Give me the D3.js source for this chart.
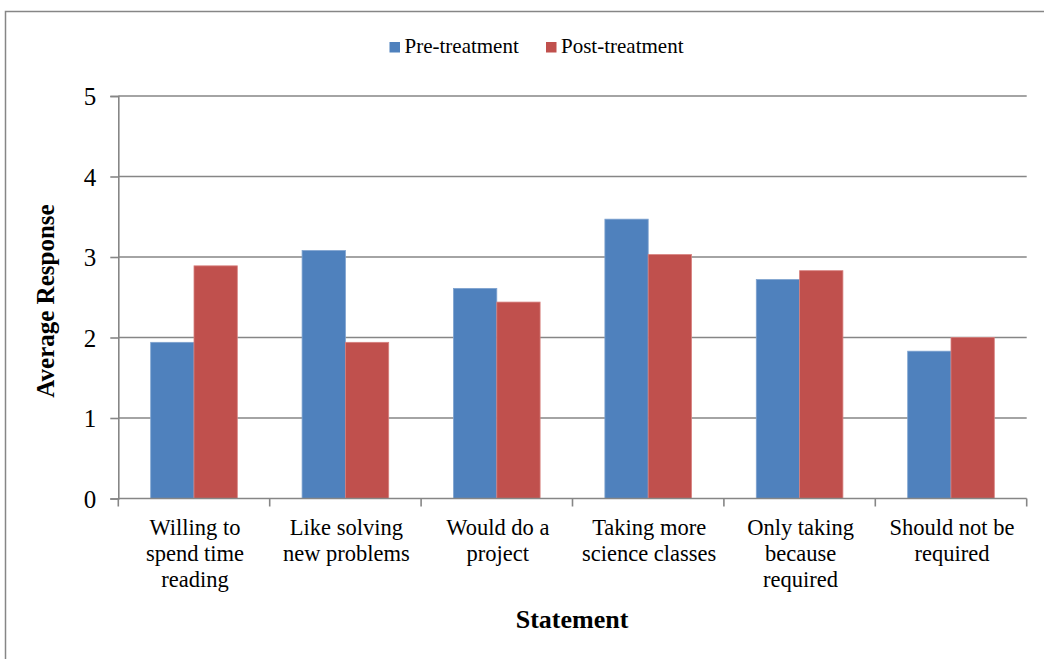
<!DOCTYPE html>
<html>
<head>
<meta charset="utf-8">
<script src="https://cdn.jsdelivr.net/npm/d3@7/dist/d3.min.js"></script>
<style>
  html, body { margin: 0; padding: 0; background: #fff; }
  svg { display: block; }
  svg text { font-family: "Liberation Serif", "Times New Roman", serif; }
</style>
</head>
<body>
<svg id="chart" width="1044" height="659"></svg>
<script>
// Survey statements (each split into display lines)
const categories = [
  ["Willing to", "spend time", "reading"],
  ["Like solving", "new problems"],
  ["Would do a", "project"],
  ["Taking more", "science classes"],
  ["Only taking", "because", "required"],
  ["Should not be", "required"]
];
const seriesNames = ["Pre-treatment", "Post-treatment"];
const preValues  = [1.94, 3.08, 2.61, 3.47, 2.72, 1.83];
const postValues = [2.89, 1.94, 2.44, 3.03, 2.83, 2.00];
const yTicks = [0, 1, 2, 3, 4, 5];

const colors = { "Pre-treatment": "#4F81BD", "Post-treatment": "#C0504D" };
const strokes = { "Pre-treatment": "#7EA2CF", "Post-treatment": "#D7807E" };
const gridColor = "#868686";
const serif = "Liberation Serif, Times New Roman, serif";

const svg = d3.select("#chart");

// outer chart frame (runs off the right and bottom edges)
svg.append("rect")
  .attr("x", 5.5).attr("y", 11.5)
  .attr("width", 1100).attr("height", 700)
  .attr("fill", "none").attr("stroke", gridColor).attr("stroke-width", 1.5);

const plot = { left: 118.3, right: 1026.7, top: 96, bottom: 498.5 };

const ids = d3.range(categories.length);
const x = d3.scaleBand().domain(ids).range([plot.left, plot.right]).padding(0);
const x1 = d3.scaleBand().domain(seriesNames).range([0, x.bandwidth()])
  .paddingInner(0).paddingOuter(0.748);
const y = d3.scaleLinear().domain([0, 5]).range([plot.bottom, plot.top]);

// horizontal gridlines
svg.append("g")
  .selectAll("line").data(yTicks.filter(d => d > 0)).join("line")
  .attr("x1", plot.left).attr("x2", plot.right)
  .attr("y1", d => y(d)).attr("y2", d => y(d))
  .attr("stroke", gridColor).attr("stroke-width", 1.6);

// bars
const rows = ids.map(i => ({ i, vals: [
  { key: "Pre-treatment", v: preValues[i] },
  { key: "Post-treatment", v: postValues[i] }
]}));
svg.append("g")
  .selectAll("g").data(rows).join("g")
  .attr("transform", d => `translate(${x(d.i)},0)`)
  .selectAll("rect").data(d => d.vals).join("rect")
  .attr("x", d => x1(d.key))
  .attr("width", x1.bandwidth())
  .attr("y", d => y(d.v))
  .attr("height", d => y(0) - y(d.v))
  .attr("fill", d => colors[d.key])
  .attr("stroke", d => strokes[d.key]).attr("stroke-width", 0.8);

// y axis
const yAxis = d3.axisLeft(y).tickValues(yTicks).tickSize(8).tickPadding(14)
  .tickFormat(d3.format("d"));
const gy = svg.append("g").attr("transform", `translate(${plot.left},0)`).call(yAxis);
gy.attr("font-family", serif);
gy.select(".domain").attr("stroke", gridColor).attr("stroke-width", 1.6);
gy.selectAll(".tick line").attr("stroke", gridColor).attr("stroke-width", 1.6);
gy.selectAll(".tick text")
  .attr("font-family", serif)
  .attr("font-size", 25).attr("fill", "#000").attr("dy", "0.34em");

// x axis: baseline with tick marks on category boundaries
svg.append("line")
  .attr("x1", plot.left).attr("x2", plot.right)
  .attr("y1", y(0)).attr("y2", y(0))
  .attr("stroke", gridColor).attr("stroke-width", 1.6);
const bounds = ids.map(i => x(i)).concat([plot.right]);
svg.append("g").selectAll("line").data(bounds).join("line")
  .attr("x1", d => d).attr("x2", d => d)
  .attr("y1", y(0)).attr("y2", y(0) + 8)
  .attr("stroke", gridColor).attr("stroke-width", 1.6);

// category labels
const catG = svg.append("g").attr("font-family", serif).attr("font-size", 22.5)
  .attr("fill", "#000").attr("text-anchor", "middle");
catG.selectAll("text").data(ids).join("text")
  .attr("x", i => x(i) + x.bandwidth() / 2 + 1)
  .attr("y", 535)
  .each(function(i) {
    d3.select(this).selectAll("tspan").data(categories[i]).join("tspan")
      .attr("x", x(i) + x.bandwidth() / 2 + 1)
      .attr("dy", (d, k) => k === 0 ? 0 : 26)
      .text(d => d);
  });

// axis titles
svg.append("text")
  .attr("x", 572).attr("y", 628).attr("font-family", serif)
  .attr("text-anchor", "middle").attr("font-weight", "bold").attr("font-size", 26)
  .text("Statement");
svg.append("text")
  .attr("transform", "translate(54,301) rotate(-90)").attr("font-family", serif)
  .attr("text-anchor", "middle").attr("font-weight", "bold").attr("font-size", 25)
  .text("Average Response");

// legend
const legendPos = { "Pre-treatment": 389.5, "Post-treatment": 546 };
const lg = svg.append("g").attr("font-family", serif);
seriesNames.forEach(name => {
  const lx = legendPos[name];
  lg.append("rect").attr("x", lx).attr("y", 42).attr("width", 10.5).attr("height", 10.5)
    .attr("fill", colors[name]);
  lg.append("text").attr("x", lx + 15).attr("y", 53)
    .attr("font-size", 21).attr("fill", "#000").text(name);
});
</script>
</body>
</html>
